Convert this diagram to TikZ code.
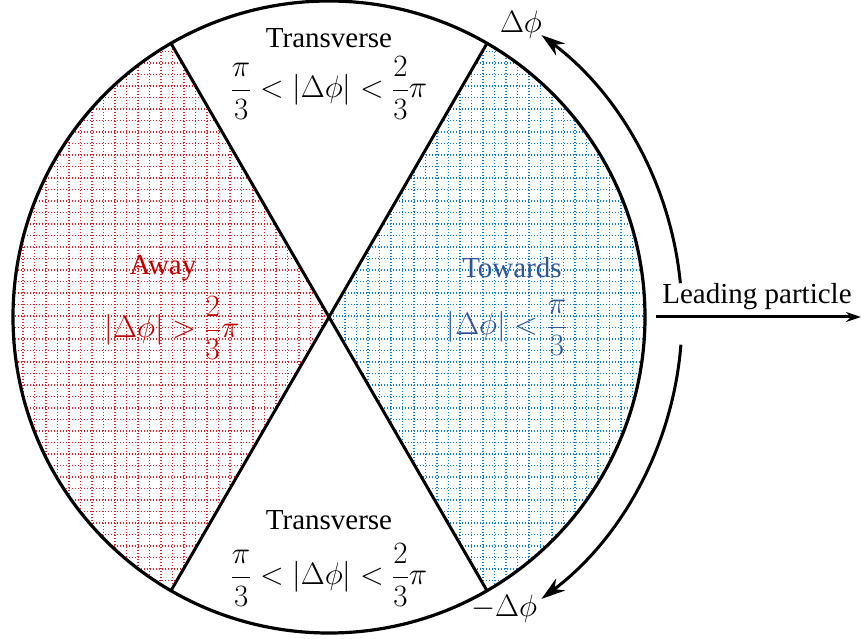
\RequirePackage{fix-cm}
\documentclass[tikz,border=0pt]{standalone}
\usepackage{fontspec}
\setmainfont{Liberation Serif}
\usetikzlibrary{arrows.meta,calc}
\definecolor{redgrid}{RGB}{222,35,45}
\definecolor{bluegrid}{RGB}{15,125,210}
\definecolor{redtext}{RGB}{192,0,0}
\definecolor{bluetext}{RGB}{47,85,151}
\begin{document}
\begin{tikzpicture}[x=1pt,y=1pt,
  lbl/.style={font=\fontsize{29}{34}\selectfont, inner sep=0pt},
  mathlbl/.style={font=\fontsize{31}{36}\selectfont, inner sep=0pt},
  gridlines/.style={line width=1.3pt, dash pattern=on 1.3pt off 1.7pt, step=11.5pt},
  thick line/.style={line width=3pt},
  bigtip/.style={-{Stealth[length=24pt,width=15pt]}}]
\useasboundingbox (0,0) rectangle (862,638);
\coordinate (C) at (329,321);
\begin{scope}
  \clip (C) -- ($(C)+(120:316)$) arc[start angle=120,end angle=240,radius=316] -- cycle;
  \draw[gridlines, redgrid] (0,0) grid (862,638);
\end{scope}
\begin{scope}
  \clip (C) -- ($(C)+(-60:316)$) arc[start angle=-60,end angle=60,radius=316] -- cycle;
  \draw[gridlines, bluegrid] (0,0) grid (862,638);
\end{scope}
\draw[line width=3.2pt] (C) circle[radius=316];
\coordinate (d1a) at ($(C)+(120:316)$);
\coordinate (d1b) at ($(C)+(300:316)$);
\coordinate (d2a) at ($(C)+(60:316)$);
\coordinate (d2b) at ($(C)+(240:316)$);
\draw[thick line] (d1a) -- (d1b);
\draw[thick line] (d2a) -- (d2b);

% labels
\node[lbl] (ttop) at (329,600) {Transverse};
\node[mathlbl] (ftop) at (329,550) {$\displaystyle\frac{\pi}{3}<|\Delta\phi|<\frac{2}{3}\pi$};
\node[lbl] (tbot) at (329,118) {Transverse};
\node[mathlbl] (fbot) at (329,63) {$\displaystyle\frac{\pi}{3}<|\Delta\phi|<\frac{2}{3}\pi$};
\node[lbl, text=redtext] (away) at (163,370) {Away};
\node[mathlbl, text=redtext] (faway) at (172,310) {$\displaystyle|\Delta\phi|>\frac{2}{3}\pi$};
\node[lbl, text=bluetext] (tow) at (512,370) {Towards};
\node[mathlbl, text=bluetext] (ftow) at (507,310) {$\displaystyle|\Delta\phi|<\frac{\pi}{3}$};

% leading particle
\node[lbl, anchor=base] (lead) at (757,334) {Leading particle};
\coordinate (la) at (656,321);
\coordinate (lb) at (861,321);
\draw[thick line, -{Stealth[length=15pt,width=10pt]}] (la) -- (lb);

% outer arcs
\coordinate (ua) at ($(C)+(5.5:353)$);
\coordinate (da) at ($(C)+(-4.5:353)$);
\draw[thick line, bigtip] (ua) arc[start angle=5.5,end angle=53,radius=353];
\draw[thick line, bigtip] (da) arc[start angle=-4.5,end angle=-53,radius=353];
\node[mathlbl] (dphi) at (521,613) {$\Delta\phi$};
\node[mathlbl] (mdphi) at (504,29) {$-\Delta\phi$};
\end{tikzpicture}
\end{document}
